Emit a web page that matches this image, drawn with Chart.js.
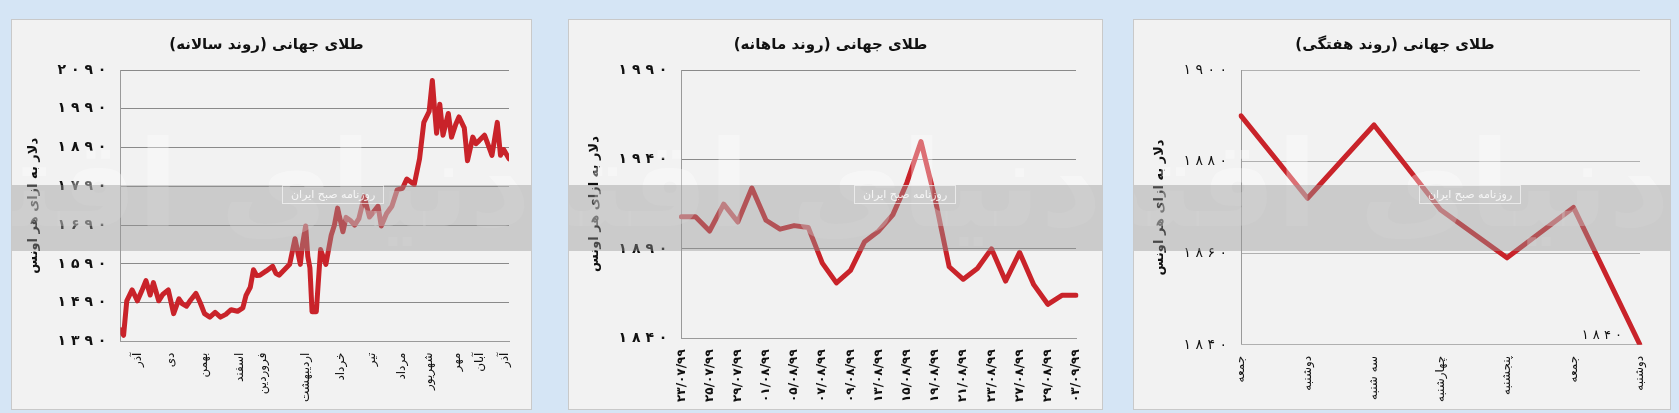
<!DOCTYPE html>
<html lang="fa">
<head>
<meta charset="utf-8">
<script src="https://cdn.jsdelivr.net/npm/chart.js@4.4.1/dist/chart.umd.min.js"></script>
<style>
  html, body { margin: 0; padding: 0; }
  body { width: 1679px; height: 413px; background: #d5e5f5; position: relative; overflow: hidden; font-family: "DejaVu Sans", sans-serif; }
  .panel { position: absolute; top: 19px; height: 391px; background: #f2f2f2; border: 1px solid #c9c9c9; box-sizing: border-box; }
  .panel canvas { position: absolute; left: 0; top: 0; }
  .band { position: absolute; left: 0; right: 0; top: 165px; height: 66px; background: rgba(150,150,150,0.42); pointer-events: none; }
  .wm { position: absolute; left: 0; right: 0; top: 95px; text-align: center; font: bold 120px "DejaVu Sans"; color: rgba(255,255,255,0.35); pointer-events: none; direction: rtl; white-space: nowrap; overflow: hidden; }
  .stamp { position: absolute; top: 165px; font: 11px "DejaVu Sans"; color: rgba(255,255,255,0.8); border: 1px solid rgba(255,255,255,0.6); padding: 2px 8px; pointer-events: none; direction: rtl; }
</style>
</head>
<body>
<div class="panel" id="p1" style="left:11px;width:521px;"><canvas id="c1"></canvas><div class="wm">دنیای اقتصاد</div><div class="band"></div><div class="stamp" style="left:270px">روزنامه صبح ایران</div></div>
<div class="panel" id="p2" style="left:568px;width:535px;"><canvas id="c2"></canvas><div class="wm">دنیای اقتصاد</div><div class="band"></div><div class="stamp" style="left:285px">روزنامه صبح ایران</div></div>
<div class="panel" id="p3" style="left:1133px;width:538px;"><canvas id="c3"></canvas><div class="wm">دنیای اقتصاد</div><div class="band"></div><div class="stamp" style="left:285px">روزنامه صبح ایران</div></div>
<script>
// ---- data: yearly trend (day index, price)
const yearDays = [0, 3, 6, 11, 16, 20, 24, 28, 31, 36, 40, 45, 50, 55, 58, 62, 66, 71, 75, 79, 84, 89, 94, 99, 104, 110, 115, 118, 122, 125, 128, 131, 137, 143, 146, 149, 154, 159, 164, 169, 171, 174, 176, 178, 180, 184, 188, 193, 198, 201, 204, 209, 212, 216, 220, 224, 229, 234, 238, 242, 245, 250, 255, 260, 265, 269, 276, 281, 285, 290, 293, 295, 297, 300, 303, 308, 311, 315, 318, 323, 326, 331, 334, 337, 342, 345, 349, 354, 357, 360, 365];
const yearPrice = [1420, 1406, 1495, 1523, 1495, 1520, 1547, 1510, 1542, 1495, 1512, 1523, 1462, 1500, 1488, 1481, 1497, 1514, 1490, 1462, 1453, 1465, 1453, 1460, 1472, 1468, 1477, 1509, 1530, 1575, 1560, 1561, 1572, 1584, 1566, 1561, 1575, 1589, 1655, 1589, 1640, 1688, 1610, 1580, 1467, 1467, 1627, 1589, 1664, 1690, 1734, 1673, 1710, 1702, 1690, 1707, 1763, 1711, 1725, 1739, 1688, 1720, 1739, 1781, 1785, 1809, 1795, 1861, 1955, 1983, 2063, 1993, 1927, 2002, 1922, 1978, 1917, 1950, 1969, 1941, 1856, 1917, 1900, 1908, 1922, 1900, 1870, 1955, 1870, 1885, 1861];
const yearTickDays = [16, 47, 78, 112, 134, 174, 207, 236, 264, 290, 316, 338, 361];
const yearTickLabels = ['آذر', 'دی', 'بهمن', 'اسفند', 'فروردین', 'اردیبهشت', 'خرداد', 'تیر', 'مرداد', 'شهریور', 'مهر', 'آبان', 'آذر'];

// ---- data: monthly trend
const monthLabels = ['۲۳/۰۷/۹۹', '', '۲۵/۰۷/۹۹', '', '۲۹/۰۷/۹۹', '', '۰۱/۰۸/۹۹', '', '۰۵/۰۸/۹۹', '', '۰۷/۰۸/۹۹', '', '۰۹/۰۸/۹۹', '', '۱۳/۰۸/۹۹', '', '۱۵/۰۸/۹۹', '', '۱۹/۰۸/۹۹', '', '۲۱/۰۸/۹۹', '', '۲۳/۰۸/۹۹', '', '۲۷/۰۸/۹۹', '', '۲۹/۰۸/۹۹', '', '۰۳/۰۹/۹۹'];
const monthPrice = [1908, 1908, 1900, 1915, 1905, 1924, 1906, 1901, 1903, 1902, 1882, 1871, 1878, 1894, 1900, 1909, 1927, 1950, 1918, 1880, 1873, 1879, 1890, 1872, 1888, 1870, 1859, 1864, 1864];

// ---- data: weekly trend
const weekLabels = ['جمعه', 'دوشنبه', 'سه شنبه', 'چهارشنبه', 'پنجشنبه', 'جمعه', 'دوشنبه'];
const weekPrice = [1890, 1872, 1888, 1869.5, 1859, 1870, 1840];

const RED = '#c9232a';
const fa = n => String(n).replace(/\d/g, d => '۰۱۲۳۴۵۶۷۸۹'[d]).split('').join(' ');
const fontFam = "'DejaVu Sans', sans-serif";

function sizeCanvas(id, panelId) {
    const p = document.getElementById(panelId);
    const c = document.getElementById(id);
    c.width = p.clientWidth; c.height = p.clientHeight;
    c.style.width = p.clientWidth + 'px'; c.style.height = p.clientHeight + 'px';
    return c;
}

function baseOptions(title, yMin, yMax, step, pad) {
    return {
        responsive: false,
        animation: false,
        layout: { padding: pad },
        plugins: {
            legend: { display: false },
            tooltip: { enabled: false },
            title: { display: true, text: title, color: '#111', font: { family: fontFam, size: 15, weight: 'bold' }, padding: { top: 4, bottom: 16 } }
        },
        elements: { point: { radius: 0 }, line: { borderWidth: 5, tension: 0, borderJoinStyle: 'round', borderCapStyle: 'round' } },
        scales: {
            y: {
                min: yMin, max: yMax,
                ticks: { stepSize: step, color: '#111', padding: 14, font: { family: fontFam, size: 14, weight: 'bold' }, callback: v => fa(v) },
                grid: { color: '#8a8a8a', lineWidth: 1, drawTicks: false },
                border: { color: '#9a9a9a' },
                title: { display: true, text: 'دلار به ازای هر اونس', color: '#111', font: { family: fontFam, size: 13, weight: 'bold' }, padding: 2 }
            }
        }
    };
}

// ---- chart 1: yearly
const o1 = baseOptions('طلای جهانی (روند سالانه)', 1390, 2090, 100, { left: 12, right: 22, top: 12, bottom: 4 });
o1.scales.x = {
    type: 'linear', min: 0, max: 365,
    afterBuildTicks: axis => { axis.ticks = yearTickDays.map(v => ({ value: v })); },
    ticks: { autoSkip: false, minRotation: 90, maxRotation: 90, color: '#111', font: { family: fontFam, size: 12 },
             callback: (v) => yearTickLabels[yearTickDays.indexOf(v)] },
    grid: { display: false }, border: { color: '#9a9a9a' }
};
new Chart(sizeCanvas('c1', 'p1'), {
    type: 'line',
    data: { datasets: [{ data: yearDays.map((d, i) => ({ x: d, y: yearPrice[i] })), borderColor: RED, borderWidth: 5 }] },
    options: o1
});

// ---- chart 2: monthly
const o2 = baseOptions('طلای جهانی (روند ماهانه)', 1840, 1990, 50, { left: 16, right: 26, top: 12, bottom: 4 });
o2.scales.x = {
    offset: false,
    ticks: { autoSkip: false, minRotation: 90, maxRotation: 90, color: '#111', font: { family: fontFam, size: 12, weight: 'bold' } },
    grid: { display: false }, border: { color: '#9a9a9a' }
};
new Chart(sizeCanvas('c2', 'p2'), {
    type: 'line',
    data: { labels: monthLabels, datasets: [{ data: monthPrice, borderColor: RED, borderWidth: 5 }] },
    options: o2
});

// ---- chart 3: weekly
const o3 = baseOptions('طلای جهانی (روند هفتگی)', 1840, 1900, 20, { left: 16, right: 30, top: 12, bottom: 4 });
o3.scales.y.ticks.font.weight = 'normal';
o3.scales.y.grid.color = '#b0b0b0';
o3.scales.x = {
    offset: false,
    ticks: { autoSkip: false, minRotation: 90, maxRotation: 90, color: '#111', font: { family: fontFam, size: 12 } },
    grid: { display: false }, border: { color: '#b0b0b0' }
};
const lastLabel = {
    id: 'lastLabel',
    afterDatasetsDraw(chart) {
        const pt = chart.getDatasetMeta(0).data[weekPrice.length - 1];
        const ctx = chart.ctx;
        ctx.save();
        ctx.font = '13px ' + fontFam;
        ctx.fillStyle = '#111';
        ctx.textAlign = 'right';
        ctx.fillText(fa(weekPrice[weekPrice.length - 1]), pt.x - 18, pt.y - 6);
        ctx.restore();
    }
};
new Chart(sizeCanvas('c3', 'p3'), {
    type: 'line',
    data: { labels: weekLabels, datasets: [{ data: weekPrice, borderColor: RED, borderWidth: 5 }] },
    options: o3,
    plugins: [lastLabel]
});
</script>
</body>
</html>
